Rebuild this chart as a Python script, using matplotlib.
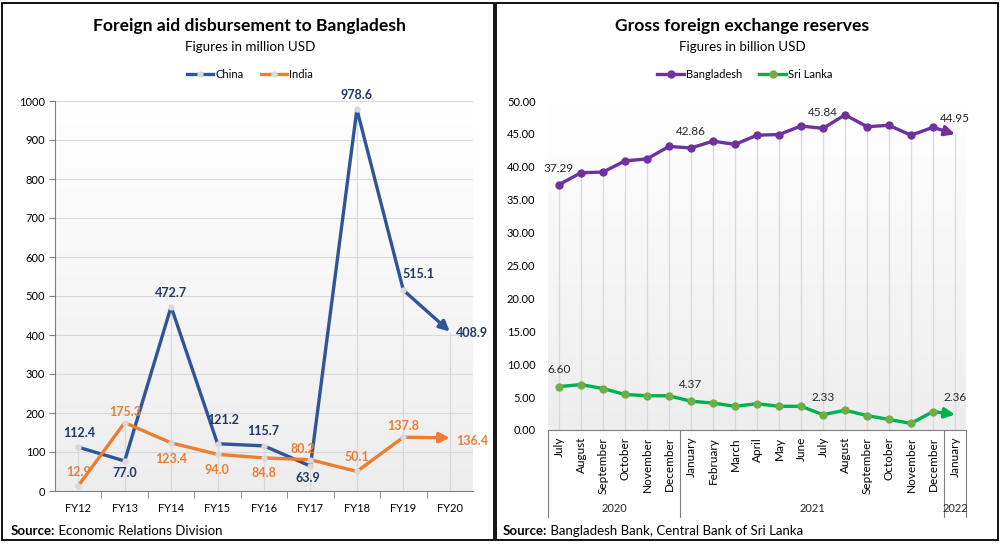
import numpy as np
import matplotlib.pyplot as plt
from matplotlib.colors import LinearSegmentedColormap
from matplotlib.lines import Line2D
from matplotlib.patches import Rectangle

plt.rcParams['font.family'] = ['Lato', 'DejaVu Sans']

# --- datos: ayuda externa (millones USD)
fiscal_years = ['FY12', 'FY13', 'FY14', 'FY15', 'FY16', 'FY17', 'FY18', 'FY19', 'FY20']
china = [112.4, 77.0, 472.7, 121.2, 115.7, 63.9, 978.6, 515.1, 408.9]
india = [12.9, 175.3, 123.4, 94.0, 84.8, 80.2, 50.1, 137.8, 136.4]

# --- datos: reservas (miles de millones USD)
months = ['July', 'August', 'September', 'October', 'November', 'December',
          'January', 'February', 'March', 'April', 'May', 'June', 'July',
          'August', 'September', 'October', 'November', 'December', 'January']
year_groups = ['2020', '2021', '2022']
group_sizes = [6, 12, 1]
bangladesh = [37.29, 39.1, 39.2, 40.9, 41.2, 43.1, 42.86, 43.9, 43.4, 44.8,
              44.9, 46.2, 45.84, 47.9, 46.1, 46.3, 44.8, 46.0, 44.95]
sri_lanka = [6.60, 6.9, 6.3, 5.4, 5.2, 5.2, 4.37, 4.1, 3.6, 4.0,
             3.6, 3.6, 2.33, 3.0, 2.2, 1.6, 1.0, 2.8, 2.36]
labelled = [0, 6, 12, 18]

# desplazamientos de etiquetas (pixeles)
china_off = [(1, 14), (0, -12), (0, 14), (6, 24), (-1, 15), (-3, -12), (0, 14), (15, 16), (6, -1)]
india_off = [(0, 14), (0, 11), (0, -16), (-1, -16), (0, -15), (-8, 11), (0, 14), (0, 11), (6, -3)]

BLUE, ORANGE = '#2F5597', '#ED7D31'
PURPLE, GREEN, LGREEN = '#7030A0', '#00B050', '#70AD47'
AXC = '#7F7F7F'
GRID = '#D9D9D9'

W, H = 1003, 544
fig = plt.figure(figsize=(W / 100, H / 100), dpi=100)
grad = LinearSegmentedColormap.from_list('g', ['#EDEDED', '#FFFFFF'])


def fx(px):
    return px / W


def fy(py):
    return 1 - py / H


def background(ax):
    g = np.linspace(0, 1, 256).reshape(-1, 1)
    ax.imshow(g, cmap=grad, extent=(0, 1, 0, 1), transform=ax.transAxes,
              aspect='auto', origin='lower', zorder=0)


def arrow_line(ax, x, y, color, lw, mfc, ms):
    ax.plot(x[:-1], y[:-1], color=color, lw=lw, marker='o', mfc=mfc, mec=mfc,
            ms=ms, zorder=4)
    ax.annotate('', xy=(x[-1], y[-1]), xytext=(x[-2], y[-2]),
                arrowprops=dict(arrowstyle='-|>', color=color, lw=lw,
                                shrinkA=0, shrinkB=0, mutation_scale=15),
                zorder=3)


# ================= panel izquierdo =================
ax1 = fig.add_axes([fx(55), fy(491), fx(473 - 55), (491 - 101) / H])
background(ax1)
x1 = np.arange(len(fiscal_years))
for v in range(100, 1001, 100):
    ax1.axhline(v, color=GRID, lw=0.8, zorder=1)
ax1.vlines(x1, 0, np.maximum(china, india), color=GRID, lw=0.9, zorder=1)
arrow_line(ax1, x1, china, BLUE, 2.4, '#D9D9D9', 3.5)
arrow_line(ax1, x1, india, ORANGE, 2.4, '#D9D9D9', 3.5)
for i, v in enumerate(china):
    dx, dy = china_off[i]
    ax1.annotate(f'{v:.1f}', (x1[i], v), xytext=(dx, dy), textcoords='offset pixels',
                 ha='left' if i == len(china) - 1 else 'center', va='center',
                 color='#203864', fontsize=9, fontweight='bold', zorder=5)
for i, v in enumerate(india):
    dx, dy = india_off[i]
    ax1.annotate(f'{v:.1f}', (x1[i], v), xytext=(dx, dy), textcoords='offset pixels',
                 ha='left' if i == len(india) - 1 else 'center', va='center',
                 color=ORANGE, fontsize=9, fontweight='bold', zorder=5)
ax1.set_xlim(-0.5, len(fiscal_years) - 0.5)
ax1.set_ylim(0, 1000)
ax1.set_xticks(x1)
ax1.set_xticklabels(fiscal_years, fontsize=8)
ax1.set_xticks(x1[:-1] + 0.5, minor=True)
ax1.tick_params(axis='x', which='major', length=0, pad=9)
ax1.tick_params(axis='x', which='minor', length=5, color=AXC, direction='out')
ax1.set_yticks(range(0, 1001, 100))
ax1.tick_params(axis='y', labelsize=8, length=4, color=AXC, pad=3)
for s in ['top', 'right']:
    ax1.spines[s].set_visible(False)
for s in ['left', 'bottom']:
    ax1.spines[s].set_color(AXC)

# ================= panel derecho =================
ax2 = fig.add_axes([fx(548), fy(430), fx(966 - 548), (430 - 101) / H])
background(ax2)
x2 = np.arange(len(months))
ax2.vlines(x2, 0, bangladesh, color=GRID, lw=0.9, zorder=1)
arrow_line(ax2, x2, bangladesh, PURPLE, 2.4, PURPLE, 5)
arrow_line(ax2, x2, sri_lanka, GREEN, 2.4, LGREEN, 5)
for i in labelled:
    ax2.annotate(f'{bangladesh[i]:.2f}', (x2[i], bangladesh[i]), xytext=(0, 16),
                 textcoords='offset pixels', ha='center', va='center',
                 fontsize=8.5, color='#262626', zorder=5)
    ax2.annotate(f'{sri_lanka[i]:.2f}', (x2[i], sri_lanka[i]), xytext=(0, 17),
                 textcoords='offset pixels', ha='center', va='center',
                 fontsize=8.5, color='#262626', zorder=5)
ax2.set_xlim(-0.5, len(months) - 0.5)
ax2.set_ylim(0, 50)
ax2.set_yticks(np.arange(0, 50.1, 5))
ax2.set_yticklabels([f'{v:.2f}' for v in np.arange(0, 50.1, 5)])
ax2.tick_params(axis='y', labelsize=8, length=0, pad=9)
ax2.set_xticks(x2)
ax2.set_xticklabels(months, rotation=90, fontsize=8.5, va='top')
ax2.tick_params(axis='x', length=0, pad=5)
for s in ['top', 'right', 'left']:
    ax2.spines[s].set_visible(False)
ax2.spines['bottom'].set_color(AXC)

# separadores de años y etiquetas
sep_depth = (517 - 430) / (430 - 101)
trans = ax2.get_xaxis_transform()
edges = np.concatenate([[0], np.cumsum(group_sizes)]) - 0.5
for e in edges:
    ax2.plot([e, e], [0, -sep_depth], color=AXC, lw=0.8, transform=trans, clip_on=False)
for k, yr in enumerate(year_groups):
    ax2.text((edges[k] + edges[k + 1]) / 2, -(508 - 430) / (430 - 101), yr,
             transform=trans, ha='center', va='center', fontsize=8, color='#262626')

# ================= textos =================
fig.text(fx(250), fy(26), 'Foreign aid disbursement to Bangladesh', ha='center', va='center',
         fontsize=12.6, fontweight='bold', color='black')
fig.text(fx(250), fy(47), 'Figures in million USD', ha='center', va='center', fontsize=9.6)
fig.text(fx(742), fy(26), 'Gross foreign exchange reserves', ha='center', va='center',
         fontsize=12.6, fontweight='bold', color='black')
fig.text(fx(742), fy(47), 'Figures in billion USD', ha='center', va='center', fontsize=9.6)

h_left = [Line2D([], [], color=BLUE, lw=2.4, marker='o', ms=3.5, mfc='#D9D9D9', mec='#D9D9D9'),
          Line2D([], [], color=ORANGE, lw=2.4, marker='o', ms=3.5, mfc='#D9D9D9', mec='#D9D9D9')]
fig.legend(h_left, ['China', 'India'], loc='center', bbox_to_anchor=(fx(250), fy(74)),
           ncol=2, frameon=False, fontsize=8, handlelength=2.4, handletextpad=0.2,
           columnspacing=1.5)
h_right = [Line2D([], [], color=PURPLE, lw=2.4, marker='o', ms=5, mfc=PURPLE, mec=PURPLE),
           Line2D([], [], color=GREEN, lw=2.4, marker='o', ms=5, mfc=LGREEN, mec=LGREEN)]
fig.legend(h_right, ['Bangladesh', 'Sri Lanka'], loc='center', bbox_to_anchor=(fx(745), fy(74)),
           ncol=2, frameon=False, fontsize=8, handlelength=2.4, handletextpad=0.2,
           columnspacing=1.5)

# fuente
renderer = fig.canvas.get_renderer()
for x0, rest in [(11, ' Economic Relations Division'),
                 (503, ' Bangladesh Bank, Central Bank of Sri Lanka')]:
    t = fig.text(fx(x0), fy(531), 'Source:', fontsize=9.5, fontweight='bold', va='center')
    bb = t.get_window_extent(renderer)
    fig.text(bb.x1 / W, fy(531), rest, fontsize=9.5, va='center')

# marcos de los paneles
for x0, x1b in [(2, 494), (496, 998)]:
    fig.add_artist(Rectangle((fx(x0), fy(540)), fx(x1b - x0), (540 - 3) / H,
                             transform=fig.transFigure, fill=False, ec='black', lw=1.3))

fig.savefig('out.png', dpi=100)
